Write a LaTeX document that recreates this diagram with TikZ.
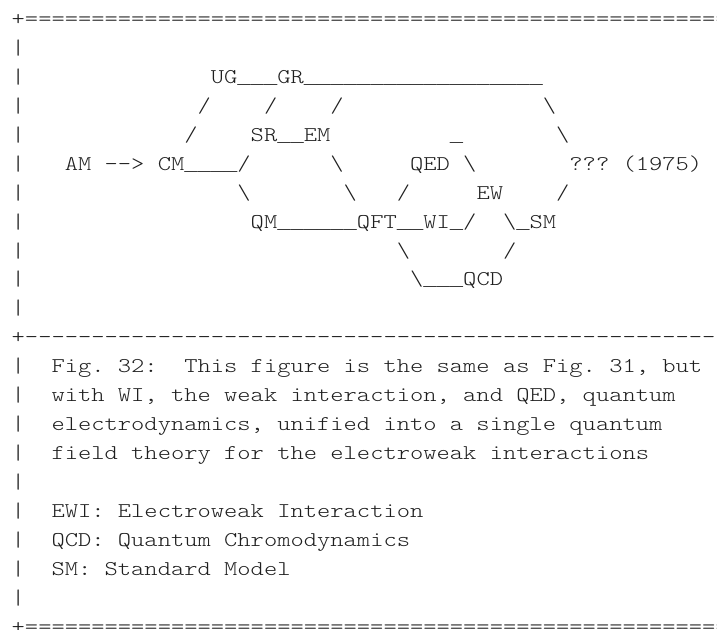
\documentclass[tikz,border=0pt]{standalone}
\usepackage{fontspec}
\newfontfamily\libmono{Liberation Mono}
\definecolor{ink}{gray}{0.12}
\newcommand\asciifont{\fontfamily{lmtt}\fontseries{l}\fontshape{n}\fontsize{21}{28.95}\selectfont\frenchspacing\spaceskip=11.025pt plus 0pt minus 0pt\relax}
\tikzset{
  tok/.style={anchor=base west, inner sep=0pt, outer sep=0pt, text=ink, font=\asciifont}
}
% \tk{name}{row}{column}{text}
\newcommand\tk[4]{\node[tok] (#1) at ({11.7+#3*13.28},{-(25.4+#2*28.95)}) {\scalebox{1.2045}[1]{#4}};}
% full-width underscore (one cell wide)
\newcommand\us{\makebox[11.025pt][l]{\libmono\fontsize{18.375}{28.95}\selectfont\_}}
\newcommand\dd{-\kern0pt}
\begin{document}
\begin{tikzpicture}[x=1pt,y=1pt]
\path[use as bounding box] (0,0) rectangle (717,-629);
\clip (0,0) rectangle (717,-629);
% frame
\tk{top}{0}{0}{+=====================================================}
\foreach \r in {1,...,10,12,13,...,20}{\tk{bar\r}{\r}{0}{|}}
\tk{mid}{11}{0}{+\dd\dd\dd\dd\dd\dd\dd\dd\dd\dd\dd\dd\dd\dd\dd\dd\dd\dd\dd\dd\dd\dd\dd\dd\dd\dd\dd\dd\dd\dd\dd\dd\dd\dd\dd\dd\dd\dd\dd\dd\dd\dd\dd\dd\dd\dd\dd\dd\dd\dd\dd\dd\dd}
\tk{bottom}{21}{0}{+=====================================================}
% row 2
\tk{UG}{2}{15}{UG}
\tk{c2a}{2}{17}{\us\us\us}
\tk{GR}{2}{20}{GR}
\tk{c2b}{2}{22}{\us\us\us\us\us\us\us\us\us\us\us\us\us\us\us\us\us\us}
% row 3
\tk{c3a}{3}{14}{/}
\tk{c3b}{3}{19}{/}
\tk{c3c}{3}{24}{/}
\tk{c3d}{3}{40}{\textbackslash}
% row 4
\tk{c4a}{4}{13}{/}
\tk{SR}{4}{18}{SR}
\tk{c4b}{4}{20}{\us\us}
\tk{EM}{4}{22}{EM}
\tk{c4c}{4}{33}{\us}
\tk{c4d}{4}{41}{\textbackslash}
% row 5
\tk{AM}{5}{4}{AM}
\tk{arr}{5}{7}{\dd\dd>}
\tk{CM}{5}{11}{CM}
\tk{c5a}{5}{13}{\us\us\us\us}
\tk{c5b}{5}{17}{/}
\tk{c5c}{5}{24}{\textbackslash}
\tk{QED}{5}{30}{QED}
\tk{c5d}{5}{34}{\textbackslash}
\tk{unk}{5}{42}{???}
\tk{year}{5}{46}{(1975)}
% row 6
\tk{c6a}{6}{17}{\textbackslash}
\tk{c6b}{6}{25}{\textbackslash}
\tk{c6c}{6}{29}{/}
\tk{EW}{6}{35}{EW}
\tk{c6d}{6}{41}{/}
% row 7
\tk{QM}{7}{18}{QM}
\tk{c7a}{7}{20}{\us\us\us\us\us\us}
\tk{QFT}{7}{26}{QFT}
\tk{c7b}{7}{29}{\us\us}
\tk{WI}{7}{31}{WI}
\tk{c7c}{7}{33}{\us/}
\tk{c7d}{7}{37}{\textbackslash\us}
\tk{SM}{7}{39}{SM}
% row 8
\tk{c8a}{8}{29}{\textbackslash}
\tk{c8b}{8}{37}{/}
% row 9
\tk{c9a}{9}{30}{\textbackslash\us\us\us}
\tk{QCD}{9}{34}{QCD}
% caption
\tk{fig}{12}{3}{Fig. 32:}
\tk{cap1}{12}{13}{This figure is the same as Fig. 31, but}
\tk{cap2}{13}{3}{with WI, the weak interaction, and QED, quantum}
\tk{cap3}{14}{3}{electrodynamics, unified into a single quantum}
\tk{cap4}{15}{3}{field theory for the electroweak interactions}
\tk{leg1}{17}{3}{EWI: Electroweak Interaction}
\tk{leg2}{18}{3}{QCD: Quantum Chromodynamics}
\tk{leg3}{19}{3}{SM: Standard Model}
\end{tikzpicture}
\end{document}
